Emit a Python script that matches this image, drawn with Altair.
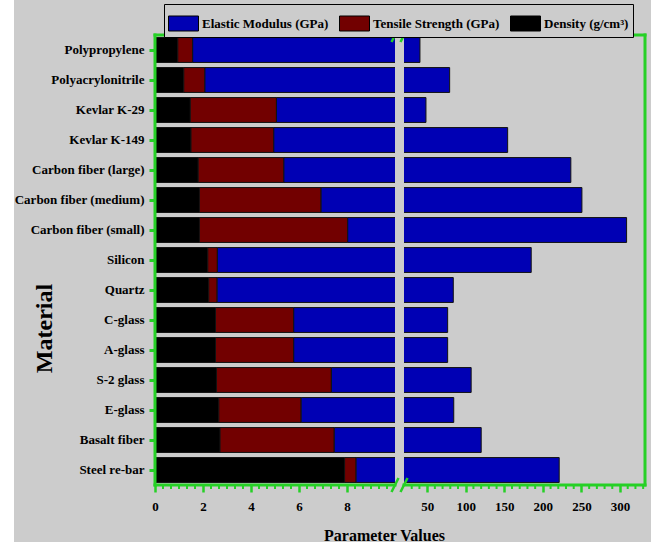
import altair as alt
import pandas as pd

# ---------------- data ----------------
materials = [
    "Polypropylene", "Polyacrylonitrile", "Kevlar K-29", "Kevlar K-149",
    "Carbon fiber (large)", "Carbon fiber (medium)", "Carbon fiber (small)",
    "Silicon", "Quartz", "C-glass", "A-glass", "S-2 glass", "E-glass",
    "Basalt fiber", "Steel re-bar",
]
density = [0.95, 1.20, 1.47, 1.50, 1.80, 1.85, 1.85, 2.20, 2.24, 2.52, 2.52, 2.56, 2.66, 2.71, 7.90]
tensile = [0.62, 0.88, 3.59, 3.45, 3.57, 5.07, 6.18, 0.40, 0.35, 3.26, 3.26, 4.79, 3.43, 4.76, 0.48]
modulus = [39.1, 77.1, 43.4, 149.4, 230.9, 243.7, 300.5, 182.3, 81.3, 70.8, 70.8, 99.7, 78.4, 112.6, 212.8]

series_names = ["Elastic Modulus (GPa)", "Tensile Strength (GPa)", "Density (g/cm³)"]
series_colors = ["#0000b4", "#720000", "#000000"]

x_tick_values = [0, 2, 4, 6, 8, 50, 100, 150, 200, 250, 300]
minor_left = [k / 3 for k in range(1, 30) if k % 6 != 0]
minor_right = [v for v in range(30, 331, 10) if v % 50 != 0]

# axis break
BREAK_LO, BREAK_HI, XMAX = 10, 20, 332.4

# ---------------- style ----------------
W, H = 490, 450
GREEN = "#26d026"
BG = "#cccccc"
FONT = "Liberation Serif"

rows = []
for i, m in enumerate(materials):
    rows.append({"material": m, "measure": series_names[2], "value": density[i], "ord": 0})
    rows.append({"material": m, "measure": series_names[1], "value": tensile[i], "ord": 1})
    rows.append({"material": m, "measure": series_names[0], "value": modulus[i], "ord": 2})
df = pd.DataFrame(rows)

xscale = alt.Scale(domain=[0, BREAK_LO, BREAK_HI, XMAX], range=[0, 240, 249, W],
                   nice=False, zero=False)

x_axis = alt.Axis(values=x_tick_values, title="Parameter Values", domain=False, grid=False,
                  tickColor=GREEN, tickSize=7, tickWidth=2.5,
                  labelFont=FONT, labelFontSize=13, labelFontWeight="bold",
                  labelColor="black", labelPadding=8, labelFlush=False,
                  titleFont=FONT, titleFontSize=16, titleFontWeight="bold",
                  titleColor="black", titleX=229, titleY=55,
                  titleBaseline="alphabetic", titleAlign="center")

bars = alt.Chart(df).mark_bar(stroke="#111111", strokeWidth=1).encode(
    x=alt.X("value:Q", stack="zero", scale=xscale, axis=x_axis),
    y=alt.Y("material:N", sort=materials,
            scale=alt.Scale(paddingInner=0.17, paddingOuter=0.085),
            axis=alt.Axis(title="Material", domain=False, grid=False,
                          tickColor=GREEN, tickSize=6, tickWidth=3,
                          labelFont=FONT, labelFontSize=13, labelFontWeight="bold",
                          labelColor="black", labelPadding=5, labelLimit=300,
                          titleFont=FONT, titleFontSize=24, titleFontWeight="bold",
                          titleColor="black", titleAngle=270, titleX=-104, titleY=293,
                          titleAlign="center", titleBaseline="alphabetic")),
    color=alt.Color("measure:N",
                    scale=alt.Scale(domain=series_names, range=series_colors),
                    legend=alt.Legend(title=None, orient="none", legendX=9, legendY=-31,
                                      direction="horizontal", columns=3,
                                      symbolType="M-1,-0.5H1V0.5H-1Z", symbolSize=900,
                                      labelOffset=3, columnPadding=8,
                                      padding=4, strokeColor="black", fillColor=BG,
                                      symbolStrokeColor="black", symbolStrokeWidth=1,
                                      labelFont=FONT, labelFontSize=13, labelFontWeight="bold",
                                      labelColor="black", labelLimit=300)),
    order=alt.Order("ord:Q", sort="ascending"),
)

one = pd.DataFrame({"k": [0]})

strip = alt.Chart(one).mark_rect(color="white").encode(
    x=alt.value(-155), x2=alt.value(-141), y=alt.value(-35), y2=alt.value(H + 57))

gap = alt.Chart(one).mark_rect(color=BG).encode(
    x=alt.datum(BREAK_LO), x2=alt.datum(BREAK_HI), y=alt.value(0), y2=alt.value(H))

def hseg(a, b, yv):
    return alt.Chart(one).mark_rule(color=GREEN, strokeWidth=3, strokeCap="square").encode(
        x=alt.datum(a), x2=alt.datum(b), y=alt.value(yv))

def vseg(xv):
    return alt.Chart(one).mark_rule(color=GREEN, strokeWidth=3, strokeCap="square").encode(
        x=alt.value(xv), y=alt.value(0), y2=alt.value(H))

frame = [hseg(0, BREAK_LO, 0), hseg(BREAK_HI, XMAX, 0),
         hseg(0, BREAK_LO, H), hseg(BREAK_HI, XMAX, H), vseg(0), vseg(W)]

minor_df = pd.DataFrame({"v": minor_left + minor_right})
minor = alt.Chart(minor_df).mark_rule(color=GREEN, strokeWidth=2).encode(
    x=alt.X("v:Q", title="Parameter Values"), y=alt.value(H), y2=alt.value(H + 4))

def slash(xv, yv):
    return alt.Chart(one).mark_point(shape="M-0.25,0.5L0.25,-0.5", size=784, color=GREEN,
                                     strokeWidth=2.5, filled=False, opacity=1).encode(
        x=alt.datum(xv), y=alt.value(yv))

slashes = [slash(BREAK_LO, 0), slash(BREAK_HI, 0), slash(BREAK_LO, H), slash(BREAK_HI, H)]

chart = alt.layer(strip, bars, gap, *frame, minor, *slashes).properties(
    width=W, height=H,
    padding={"left": 155, "top": 35, "right": 6, "bottom": 57},
    autosize=alt.AutoSizeParams(type="none"),
).configure(background=BG).configure_view(stroke="transparent")

chart.save("out.html", embed_options={"renderer": "svg", "actions": False})
